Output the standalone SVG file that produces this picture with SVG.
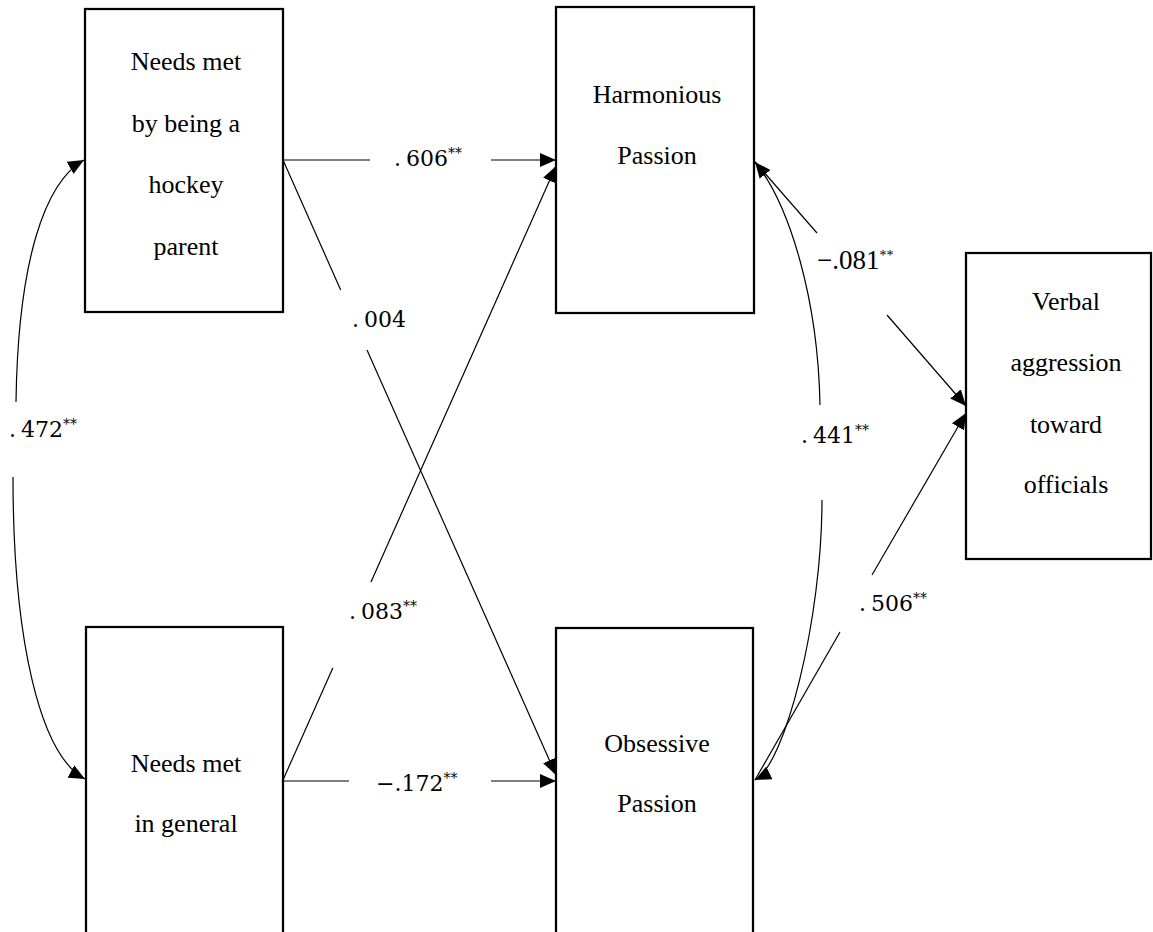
<svg xmlns="http://www.w3.org/2000/svg" width="1153" height="932" viewBox="0 0 1153 932">
<style>
.box{fill:#fff;stroke:#000;stroke-width:2.25}
.nt{font-family:'Liberation Serif','Times New Roman',Tinos,'DejaVu Serif',serif;font-size:26px;fill:#000;text-anchor:middle}
.lb{font-family:'DejaVu Serif',serif;font-size:22px;fill:#000}
.lt{font-family:'Liberation Serif','Times New Roman',Tinos,'DejaVu Serif',serif;font-size:27px;fill:#000}
.st{font-size:14px}
.cn{fill:none;stroke:#000;stroke-width:1.2}
</style>
<defs>
<marker id="ah" viewBox="0 0 16 14" refX="16" refY="7" markerWidth="16" markerHeight="14" markerUnits="userSpaceOnUse" orient="auto-start-reverse">
<path d="M0,0 L16,7 L0,14 Z" fill="#000"/>
</marker>
</defs>
<rect width="1153" height="932" fill="#fff"/>
<g id="n-hockey">
<rect class="box" x="85" y="9" width="198" height="303"/>
<text class="nt" x="186" y="70">Needs met</text>
<text class="nt" x="186" y="132">by being a</text>
<text class="nt" x="186" y="193">hockey</text>
<text class="nt" x="186" y="255">parent</text>
</g>
<g id="n-harmonious">
<rect class="box" x="556" y="7" width="198" height="306"/>
<text class="nt" x="657" y="103">Harmonious</text>
<text class="nt" x="657" y="164">Passion</text>
</g>
<g id="n-verbal">
<rect class="box" x="966" y="253" width="185" height="306"/>
<text class="nt" x="1066" y="310">Verbal</text>
<text class="nt" x="1066" y="371">aggression</text>
<text class="nt" x="1066" y="433">toward</text>
<text class="nt" x="1066" y="493">officials</text>
</g>
<g id="n-general">
<rect class="box" x="86" y="627" width="197" height="330"/>
<text class="nt" x="186" y="772">Needs met</text>
<text class="nt" x="186" y="832">in general</text>
</g>
<g id="n-obsessive">
<rect class="box" x="556" y="628" width="197" height="330"/>
<text class="nt" x="657" y="752">Obsessive</text>
<text class="nt" x="657" y="812">Passion</text>
</g>
<g id="connectors">
<line class="cn" x1="283" y1="160" x2="370" y2="160"/>
<line class="cn" x1="491" y1="160" x2="556" y2="160" marker-end="url(#ah)"/>
<line class="cn" x1="283" y1="160" x2="340.7" y2="290"/>
<line class="cn" x1="367" y1="350" x2="556" y2="775" marker-end="url(#ah)"/>
<line class="cn" x1="283" y1="780" x2="332.8" y2="668"/>
<line class="cn" x1="371" y1="582" x2="556" y2="166" marker-end="url(#ah)"/>
<line class="cn" x1="283" y1="781" x2="349" y2="781"/>
<line class="cn" x1="491" y1="781" x2="556" y2="781" marker-end="url(#ah)"/>
<line class="cn" x1="755" y1="162" x2="817" y2="233"/>
<line class="cn" x1="887" y1="315" x2="966" y2="406" marker-end="url(#ah)"/>
<line class="cn" x1="755" y1="780" x2="840" y2="632"/>
<line class="cn" x1="872" y1="575" x2="966" y2="413" marker-end="url(#ah)"/>
<path class="cn" d="M755,162 C790,205 818,300 820,405" marker-start="url(#ah)"/>
<path class="cn" d="M822,500 C822,620 785,765 755,780" marker-end="url(#ah)"/>
<path class="cn" d="M84,160 C45,182 18,260 16,402" marker-start="url(#ah)"/>
<path class="cn" d="M13,477 C13,640 40,755 85,779" marker-end="url(#ah)"/>
</g>
<g id="labels">
<text class="lb" x="394" y="166">.<tspan dx="5">606</tspan><tspan class="st" dy="-8">**</tspan></text>
<text class="lb" x="352" y="327">.<tspan dx="5">004</tspan></text>
<text class="lb" x="349" y="619">.<tspan dx="5">083</tspan><tspan class="st" dy="-8">**</tspan></text>
<text class="lb" x="376" y="791">−.172<tspan class="st" dy="-8">**</tspan></text>
<text class="lb" x="9" y="437">.<tspan dx="5">472</tspan><tspan class="st" dy="-8">**</tspan></text>
<text class="lt" x="817" y="269">−.081<tspan class="st" dy="-9">**</tspan></text>
<text class="lb" x="801" y="443">.<tspan dx="5">441</tspan><tspan class="st" dy="-8">**</tspan></text>
<text class="lb" x="859" y="611">.<tspan dx="5">506</tspan><tspan class="st" dy="-8">**</tspan></text>
</g>
</svg>
